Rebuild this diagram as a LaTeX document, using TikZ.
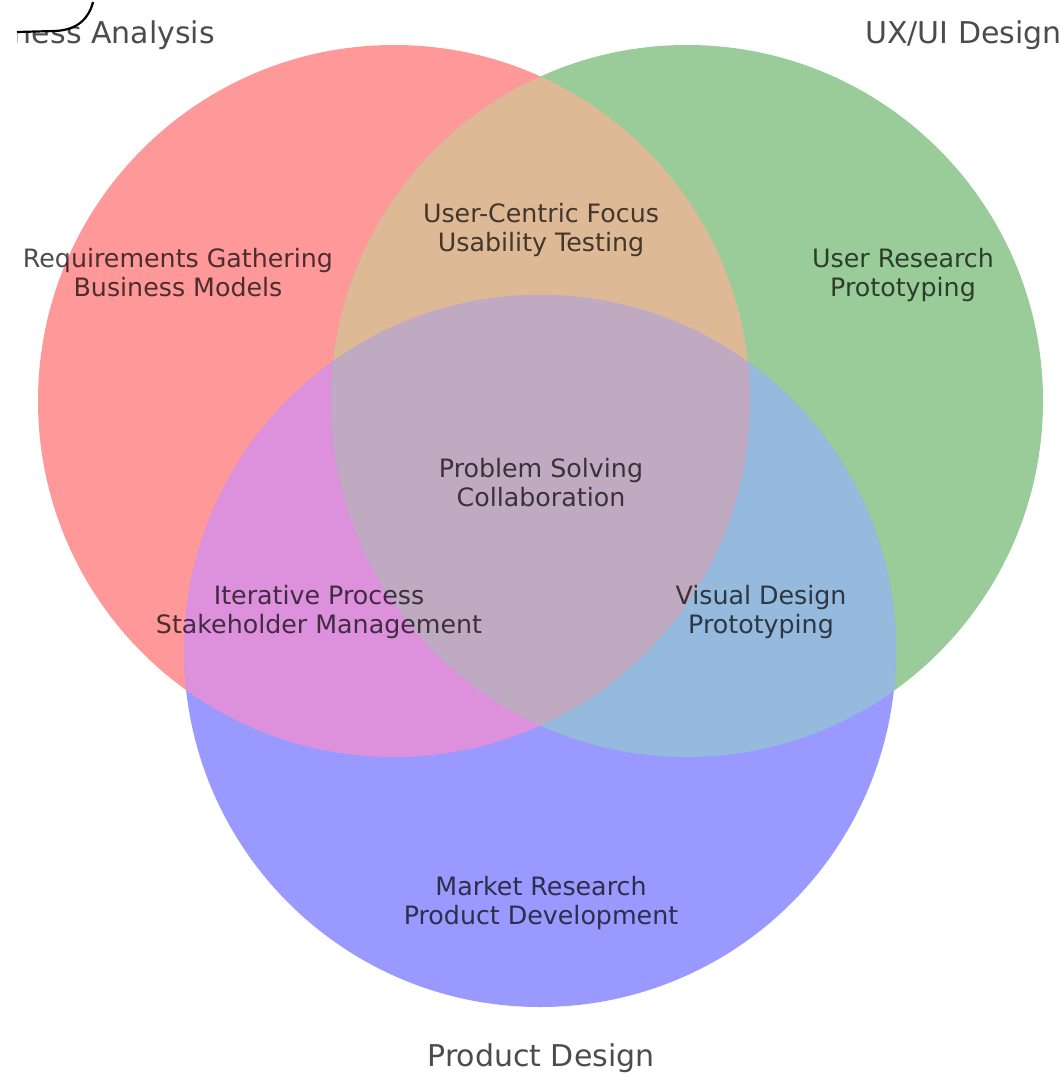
\documentclass[tikz,border=0pt]{standalone}
\usepackage{fontspec}
\setmainfont{DejaVu Sans}
\definecolor{cR}{RGB}{255,153,153}
\definecolor{cG}{RGB}{153,204,153}
\definecolor{cB}{RGB}{153,153,255}
\definecolor{cRG}{RGB}{222,185,150}
\definecolor{cRB}{RGB}{221,145,221}
\definecolor{cGB}{RGB}{150,185,222}
\definecolor{cRGB}{RGB}{192,170,194}
\begin{document}
\begin{tikzpicture}[x=1pt,y=-1pt,
  region/.style={align=center, text=black, text opacity=0.7, font=\fontsize{25.3}{29}\selectfont, inner sep=0pt, anchor=base},
  setlabel/.style={text=black, text opacity=0.7, font=\fontsize{30}{36}\selectfont, inner sep=0pt}]
\useasboundingbox (0,0) rectangle (1061,1074);
\clip (0,0) rectangle (1061,1074);
\coordinate (cr) at (394,401);
\coordinate (cg) at (687,401);
\coordinate (cb) at (540,651);
\fill[cR] (cr) circle[radius=356];
\fill[cG] (cg) circle[radius=356];
\fill[cB] (cb) circle[radius=356];
\begin{scope}
  \clip (cr) circle[radius=356];
  \fill[cRG] (cg) circle[radius=356];
  \fill[cRB] (cb) circle[radius=356];
\end{scope}
\begin{scope}
  \clip (cg) circle[radius=356];
  \fill[cGB] (cb) circle[radius=356];
\end{scope}
\begin{scope}
  \clip (cr) circle[radius=356];
  \clip (cg) circle[radius=356];
  \fill[cRGB] (cb) circle[radius=356];
\end{scope}
% region labels (anchor = baseline of the last line)
\node[region] (req) at (178,296) {Requirements Gathering\\Business Models};
\node[region] (ucf) at (541,251) {User-Centric Focus\\Usability Testing};
\node[region] (urs) at (903,296) {User Research\\Prototyping};
\node[region] (pbs) at (541,506) {Problem Solving\\Collaboration};
\node[region] (itp) at (319,633) {Iterative Process\\Stakeholder Management};
\node[region] (vsd) at (761,633) {Visual Design\\Prototyping};
\node[region] (mkr) at (541,924) {Market Research\\Product Development};
% set labels
\node[setlabel, anchor=base east] (ba) at (215,43) {Business Analysis};
\node[setlabel, anchor=base west] (ux) at (865,43) {UX/UI Design};
\node[setlabel, anchor=base] (pd) at (541,1066) {Product Design};
% stroke over the top-left label
\fill[white] (0,0) -- (93,0) .. controls (89,18) and (78,30) .. (55,31) -- (17,32) -- (17,50) -- (0,50) -- cycle;
\draw[line width=2.2pt] (93,2) .. controls (89,18) and (78,30) .. (55,31) -- (17,32);
\end{tikzpicture}
\end{document}
